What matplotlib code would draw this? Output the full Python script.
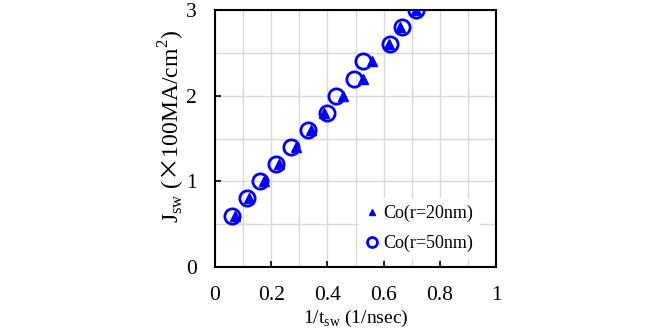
import numpy as np
import matplotlib.pyplot as plt
from matplotlib.ticker import MultipleLocator

plt.rcParams['font.family'] = ['Liberation Serif', 'DejaVu Serif']
plt.rcParams['mathtext.fontset'] = 'custom'
plt.rcParams['mathtext.rm'] = 'Liberation Serif'
plt.rcParams['mathtext.sf'] = 'Noto Sans CJK JP'

# Co(r=20nm) - triangles
x20 = [0.071, 0.122, 0.174, 0.229, 0.287, 0.342, 0.388, 0.457, 0.528, 0.558, 0.62, 0.66, 0.715]
y20 = [0.6, 0.8, 1.0, 1.2, 1.4, 1.6, 1.8, 2.0, 2.2, 2.4, 2.6, 2.8, 3.0]
# Co(r=50nm) - open circles
x50 = [0.059, 0.113, 0.160, 0.217, 0.269, 0.332, 0.397, 0.431, 0.495, 0.528, 0.623, 0.664, 0.715]
y50 = [0.6, 0.8, 1.0, 1.2, 1.4, 1.6, 1.8, 2.0, 2.2, 2.4, 2.6, 2.8, 3.0]

fig = plt.figure(figsize=(6.6, 3.3), dpi=100)
ax = fig.add_axes([215/660, 1 - 267/330, 281/660, 257/330])

ax.plot(x20, y20, '^', color='#0000ff', markersize=7.5, linestyle='none', label='Co(r=20nm)', zorder=3)
ax.plot(x50, y50, 'o', markerfacecolor='none', markeredgecolor='#0000ff', markeredgewidth=2,
        markersize=11, linestyle='none', label='Co(r=50nm)', zorder=4)

ax.set_xlim(0, 1)
ax.set_ylim(0, 3)
ax.xaxis.set_minor_locator(MultipleLocator(0.1))
ax.yaxis.set_major_locator(MultipleLocator(1))
ax.yaxis.set_minor_locator(MultipleLocator(0.5))
ax.set_xticks([0, 0.2, 0.4, 0.6, 0.8, 1])
ax.set_xticklabels(['0', '0.2', '0.4', '0.6', '0.8', '1'])
ax.tick_params(which='major', direction='in', length=4, width=1.2, labelsize=15.5)
ax.tick_params(axis='x', pad=14)
ax.tick_params(axis='y', pad=13)
ax.tick_params(which='minor', length=0)
ax.grid(True, which='both', color='#d9d9d9', linewidth=1)
ax.set_axisbelow(True)
for s in ax.spines.values():
    s.set_linewidth(1.5)

ax.set_xlabel('1/t$_{\\mathrm{sw}}$ (1/nsec)', fontsize=14, va='center')
ax.xaxis.set_label_coords(0.5, (267 - 318) / 257)
ax.set_ylabel('J$_{\\mathrm{sw}}$ ($\\mathsf{×}$100MA/cm$^{\\mathrm{2}}$)', fontsize=17, va='center')
ax.yaxis.set_label_coords((172 - 215) / 281, (267 - 127) / 257)

leg = ax.legend(loc='lower right', bbox_to_anchor=(0.975, -0.005), frameon=True, fontsize=13,
                handlelength=0.6, handletextpad=0.3, markerscale=0.65, borderpad=0.4,
                labelspacing=0.7, fancybox=False)
leg.get_frame().set_edgecolor('none')
leg.get_frame().set_facecolor('white')
leg.get_frame().set_alpha(1)

fig.savefig('out.png', dpi=100)
